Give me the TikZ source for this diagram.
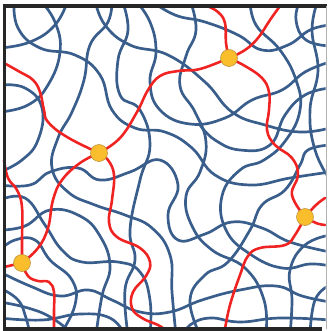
\documentclass[tikz,border=0pt]{standalone}
\usepackage{tikz}
\usetikzlibrary{calc}
\definecolor{chainblue}{RGB}{58,94,140}
\definecolor{strandred}{RGB}{240,35,35}
\definecolor{linkgold}{RGB}{250,190,45}
\definecolor{linkedge}{RGB}{185,145,60}

\begin{document}
\begin{tikzpicture}[
  x=0.03cm, y=-0.03cm,
  chain/.style={draw=chainblue, line width=2.3pt, line cap=round},
  strand/.style={draw=strandred, line width=2.2pt, line cap=round},
  junction/.style={circle, fill=linkgold, draw=linkedge, line width=0.5pt, minimum size=0.51cm, inner sep=0pt},
  wall/.style={line width=2.6pt, black!85}
]
  \useasboundingbox (0,0) rectangle (327,331);

  \coordinate (n1) at (229,58);
  \coordinate (n2) at (99,153);
  \coordinate (n3) at (305,217);
  \coordinate (n4) at (22,263);

  \begin{scope}[tension=0.75]
    \clip (4.5,6) rectangle (325.5,329);
    % background chains
    \draw[chain] plot[smooth] coordinates {(14,0) (18,28) (40,48) (75,55) (100,75) (112,110) (135,128) (165,132) (192,148) (215,175) (250,185) (290,178) (330,172)};
    \draw[chain] plot[smooth] coordinates {(0,48) (30,42) (55,25) (68,0)};
    \draw[chain] plot[smooth] coordinates {(40,0) (55,22) (60,52) (48,85) (28,105) (0,112)};
    \draw[chain] plot[smooth] coordinates {(95,0) (105,25) (130,45) (168,55) (205,82) (232,112) (265,125) (300,132) (330,128)};
    \draw[chain] plot[smooth] coordinates {(112,0) (108,22) (90,45) (84,80) (72,112) (58,138) (52,168) (68,192) (95,205) (125,215) (152,228) (170,255) (172,292) (176,335)};
    \draw[chain] plot[smooth] coordinates {(135,0) (150,22) (156,52) (150,82) (160,110) (190,124) (225,118) (252,100) (282,90) (305,72) (330,62)};
    \draw[chain] plot[smooth] coordinates {(150,0) (175,15) (205,22) (238,35) (262,50) (288,45) (310,30) (330,25)};
    \draw[chain] plot[smooth] coordinates {(190,0) (196,30) (186,56) (180,86) (195,112) (206,142) (200,172) (186,196) (192,226) (212,250) (245,268) (264,300) (266,335)};
    \draw[chain] plot[smooth] coordinates {(250,0) (256,25) (280,50) (296,80) (300,110) (286,140) (264,160) (240,170) (222,196) (226,230) (250,254) (282,268) (310,264) (330,266)};
    \draw[chain] plot[smooth] coordinates {(300,0) (296,20) (306,40) (330,46)};
    \draw[chain] plot[smooth] coordinates {(0,85) (25,88) (42,108) (38,140) (22,160) (0,172)};
    \draw[chain] plot[smooth] coordinates {(0,230) (25,226) (50,210) (80,216) (100,236) (110,266) (102,296) (96,335)};
    \draw[chain] plot[smooth] coordinates {(0,272) (30,286) (60,296) (88,290) (112,300) (140,312) (170,312) (202,300) (240,290) (276,286) (302,296) (330,302)};
    \draw[chain] plot[smooth] coordinates {(0,288) (18,300) (26,318) (30,335)};
    \draw[chain] plot[smooth] coordinates {(0,302) (28,308) (52,318) (74,335)};
    \draw[chain] plot[smooth] coordinates {(0,318) (42,320) (80,314) (110,318) (125,335)};
    \draw[chain] plot[smooth] coordinates {(0,200) (25,198) (45,225) (62,250) (82,262) (118,262) (140,272) (150,300) (150,335)};
    \draw[chain] plot[smooth] coordinates {(122,0) (128,30) (118,60) (120,95) (140,110) (150,145) (140,180) (130,230) (135,260) (125,290) (128,335)};
    \draw[chain] plot[smooth] coordinates {(318,0) (312,30) (318,70) (310,110) (315,150) (330,180)};
    \draw[chain] plot[smooth] coordinates {(330,235) (305,245) (290,270) (292,300) (290,335)};
    \draw[chain] plot[smooth] coordinates {(330,285) (315,300) (310,335)};
    \draw[chain] plot[smooth] coordinates {(330,320) (280,318) (240,322) (210,318) (190,325) (185,335)};
    \draw[chain] plot[smooth] coordinates {(0,185) (30,185) (50,172) (78,168) (100,180) (130,172) (160,160) (178,185) (168,215) (178,240) (205,234) (232,222) (262,228) (290,242) (330,252)};
    \draw[chain] plot[smooth] coordinates {(330,145) (308,150) (300,165) (285,190) (262,205) (250,230) (228,262) (205,275) (190,300) (200,335)};
    \draw[chain] plot[smooth] coordinates {(330,88) (305,95) (285,115) (270,145) (240,150) (215,140) (200,125)};
    \draw[chain] plot[smooth] coordinates {(0,250) (15,240) (35,240) (50,260) (72,280) (75,305) (60,335)};
  \end{scope}

  % red strands between the crosslinks
  \draw[strand] plot[smooth, tension=0.7] coordinates {(4,63) (20,72) (33,80) (40,92) (44,110) (48,122) (67,137) (n2)};
  \draw[strand] plot[smooth, tension=0.7] coordinates {(n2) (120,138) (137,112) (148,90) (160,76) (178,71) (200,69) (n1)};
  \draw[strand] plot[smooth, tension=0.7] coordinates {(n1) (226,43) (225,23) (218,12) (207,6)};
  \draw[strand] plot[smooth, tension=0.7] coordinates {(n1) (245,50) (258,38) (270,20) (280,6)};
  \draw[strand] plot[smooth, tension=0.7] coordinates {(n1) (245,66) (262,78) (269,92) (269,110) (267,130) (275,145) (292,158) (298,175) (292,195) (n3)};
  \draw[strand] plot[smooth, tension=0.7] coordinates {(n3) (316,205) (325,198)};
  \draw[strand] plot[smooth, tension=0.7] coordinates {(n3) (316,223) (325,225)};
  \draw[strand] plot[smooth, tension=0.7] coordinates {(n3) (295,235) (285,245) (260,248) (248,256) (240,275) (230,305) (225,329)};
  \draw[strand] plot[smooth, tension=0.7] coordinates {(n2) (108,160) (114,175) (112,200) (109,222) (117,237) (140,248) (150,262) (146,276) (133,292) (132,308) (142,318) (158,325) (164,329)};
  \draw[strand] plot[smooth, tension=0.7] coordinates {(n2) (80,163) (62,180) (53,200) (48,228) (38,248) (n4)};
  \draw[strand] plot[smooth, tension=0.7] coordinates {(n4) (22,240) (22,207) (17,190) (8,178) (4,160)};
  \draw[strand] (n4) -- (4,267);
  \draw[strand] plot[smooth, tension=0.7] coordinates {(n4) (28,276) (38,281) (49,282) (54,292) (54,310) (54,329)};

  \node[junction] (c1) at (n1) {};
  \node[junction] (c2) at (n2) {};
  \node[junction] (c3) at (n3) {};
  \node[junction] (c4) at (n4) {};

  \draw[wall] (327,6) -- (4.5,6) -- (4.5,331);
  \draw[wall] (4.5,329) -- (322,329);
  \draw[black!30, line width=0.5pt] (326,6) -- (326,329);
\end{tikzpicture}
\end{document}
